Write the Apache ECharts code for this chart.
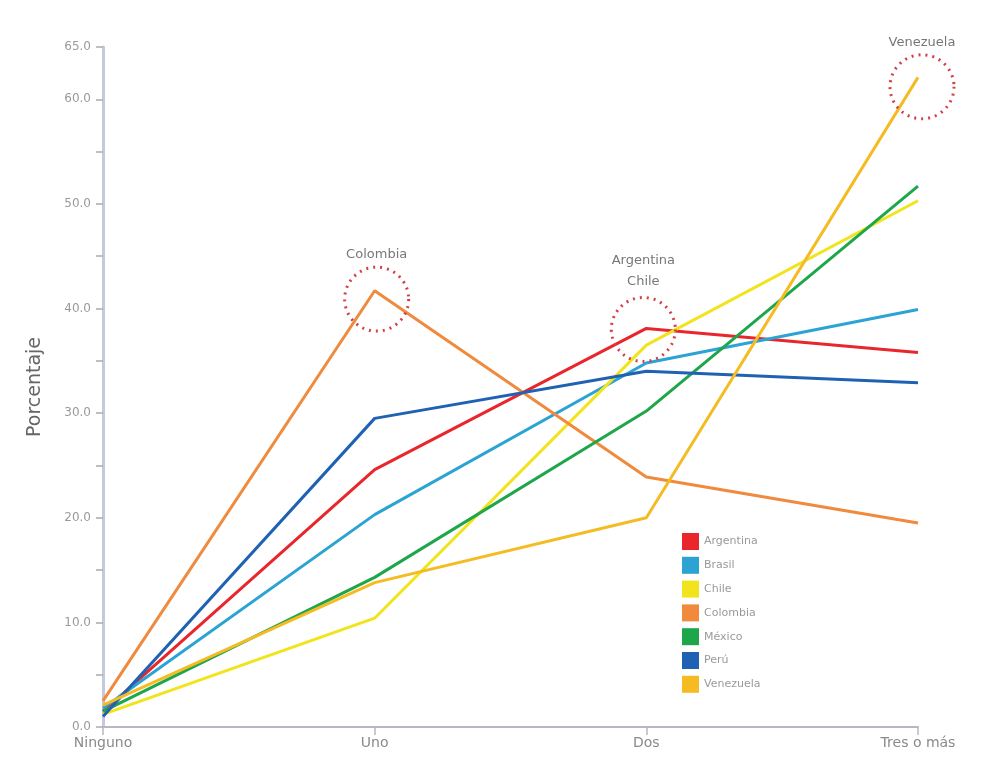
<!DOCTYPE html>
<html>
<head>
<meta charset="utf-8">
<script src="https://cdn.jsdelivr.net/npm/echarts@6/dist/echarts.min.js"></script>
<style>
html,body{margin:0;padding:0;background:#fff;}
#c{width:1005px;height:776px;}
</style>
</head>
<body>
<div id="c"></div>
<script>
var categories = ['Ninguno', 'Uno', 'Dos', 'Tres o más'];
var argentina = [1.5, 24.6, 38.1, 35.8];
var brasil = [1.8, 20.3, 34.8, 39.9];
var chile = [1.2, 10.4, 36.5, 50.3];
var colombia = [2.5, 41.7, 23.9, 19.5];
var mexico = [1.5, 14.3, 30.2, 51.7];
var peru = [1.0, 29.5, 34.0, 32.9];
var venezuela = [2.1, 13.8, 20.0, 62.1];
var seriesNames = ['Argentina', 'Brasil', 'Chile', 'Colombia', 'México', 'Perú', 'Venezuela'];
var seriesColors = ['#e8262b', '#2ba3d3', '#f2e41c', '#f08a3c', '#1ea64b', '#1f62b4', '#f5bb22'];
var yMin = 0, yMax = 65, yStep = 5;

var allData = [argentina, brasil, chile, colombia, mexico, peru, venezuela];

function circleMark(cat, val, text, labelDist, offX) {
  return {
    coord: [cat, val],
    value: text,
    symbol: 'circle',
    symbolSize: 64,
    symbolOffset: [offX || 0, 0],
    itemStyle: { color: 'rgba(0,0,0,0)', borderColor: '#d2404a', borderWidth: 3, borderType: [2, 5] },
    label: { show: true, position: 'top', distance: labelDist, formatter: text, color: '#777', fontSize: 13, fontFamily: 'DejaVu Sans', lineHeight: 21 }
  };
}

var marks = {
  'Colombia': [circleMark('Uno', 40.9, 'Colombia', 0, 2)],
  'Argentina': [circleMark('Dos', 38.0, 'Argentina\nChile', 4, -3)],
  'Venezuela': [circleMark('Tres o más', 61.2, 'Venezuela', 0, 4)]
};

var series = seriesNames.map(function (name, i) {
  var s = {
    name: name,
    type: 'line',
    data: allData[i],
    showSymbol: false,
    symbol: 'none',
    lineStyle: { width: 3, color: seriesColors[i] },
    itemStyle: { color: seriesColors[i] },
    z: 2
  };
  if (marks[name]) {
    s.markPoint = { silent: true, data: marks[name], z: 5 };
  }
  return s;
});

var chart = echarts.init(document.getElementById('c'), null, { renderer: 'canvas' });
chart.setOption({
  backgroundColor: '#ffffff',
  animation: false,
  color: seriesColors,
  grid: { left: 103, right: 87, top: 47, bottom: 49, containLabel: false },
  legend: {
    orient: 'vertical',
    left: 677,
    top: 528,
    itemWidth: 17,
    itemHeight: 17,
    itemGap: 6.8,
    icon: 'rect',
    textStyle: { color: '#9a9a9a', fontSize: 11, fontFamily: 'DejaVu Sans' },
    data: seriesNames.map(function (n, i) { return { name: n, icon: 'rect', itemStyle: { color: seriesColors[i] } }; })
  },
  xAxis: {
    type: 'category',
    data: categories,
    boundaryGap: false,
    axisLine: { lineStyle: { color: '#b8b8c4', width: 2 } },
    axisTick: { show: true, alignWithLabel: true, length: 8, lineStyle: { color: '#b8b8c4', width: 1.5 } },
    axisLabel: { color: '#8a8a8a', fontSize: 14, fontFamily: 'DejaVu Sans', margin: 9 },
    splitLine: { show: false }
  },
  yAxis: {
    type: 'value',
    min: yMin,
    max: yMax,
    interval: yStep,
    name: 'Porcentaje',
    nameLocation: 'middle',
    nameGap: 58,
    nameRotate: 90,
    nameTextStyle: { color: '#666', fontSize: 19, fontFamily: 'DejaVu Sans' },
    axisLine: { show: true, lineStyle: { color: '#c6c8dc', width: 3 } },
    axisTick: { show: true, length: 7, lineStyle: { color: '#aaa', width: 1.5 } },
    axisLabel: {
      color: '#9a9a9a', fontSize: 12, fontFamily: 'DejaVu Sans', margin: 12,
      formatter: function (v) {
        if (v % 10 === 0 || v === yMax) return v.toFixed(1);
        return '';
      }
    },
    splitLine: { show: false }
  },
  series: series
});
</script>
</body>
</html>
